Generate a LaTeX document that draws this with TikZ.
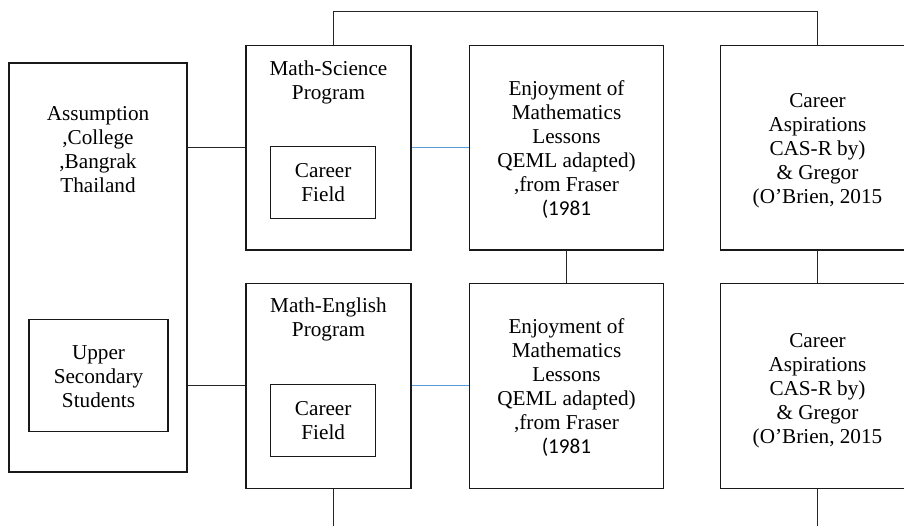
\documentclass[tikz,border=0pt]{standalone}
\usepackage{fontspec}
\setmainfont{Liberation Serif}
\newfontfamily\calibri{Carlito}
\definecolor{linkblue}{HTML}{5B9BD5}
\begin{document}
\begin{tikzpicture}[x=1pt,y=-1pt,
  box/.style={draw=black!90,line width=1.1pt,rectangle,inner sep=0pt},
  txt/.style={align=center,inner sep=0pt,font=\fontsize{21.2}{24}\selectfont},
  conn/.style={draw=black!85,line width=1pt},
  bluecon/.style={draw=linkblue,line width=1pt}]
\useasboundingbox (0,0) rectangle (904,526);
\clip (0,0) rectangle (904,526);
% boxes
\node[box,minimum width=178pt,minimum height=409pt] (L) at (98,267.5) {};
\node[box,minimum width=139pt,minimum height=111.5pt] (US) at (98.5,375.5) {};
\node[box,minimum width=165pt,minimum height=204.5pt] (MS) at (328.5,147.8) {};
\node[box,minimum width=105pt,minimum height=71.6pt] (CF1) at (323.2,182.5) {};
\node[box,minimum width=165pt,minimum height=204.5pt] (ME) at (328.5,385.9) {};
\node[box,minimum width=105pt,minimum height=71.6pt] (CF2) at (323.2,420.7) {};
\node[box,minimum width=194pt,minimum height=204.5pt] (E1) at (566.7,147.8) {};
\node[box,minimum width=194pt,minimum height=204.5pt] (E2) at (566.7,385.9) {};
\node[box,minimum width=194pt,minimum height=204.5pt] (C1) at (817.3,147.8) {};
\node[box,minimum width=194pt,minimum height=204.5pt] (C2) at (817.3,385.9) {};
% connectors
\coordinate (tl) at (333,12);
\coordinate (bl) at (333,530);
\draw[conn] (L.east |- MS.west) -- (MS.west);
\draw[conn] (L.east |- ME.west) -- (ME.west);
\draw[bluecon] (MS.east) -- (E1.west);
\draw[bluecon] (ME.east) -- (E2.west);
\draw[conn] (E1.south) -- (E2.north);
\draw[conn] (C1.south) -- (C2.north);
\draw[conn] (MS.north -| tl) -- (tl) -- (tl -| C1.north) -- (C1.north);
\draw[conn] (ME.south -| bl) -- (bl);
\draw[conn] (C2.south) -- (C2.south |- bl);
% texts
\node[txt] (tL) at (98,150) {Assumption\\,College\\,Bangrak\\Thailand};
\node[txt] (tUS) at (98.5,376.7) {Upper\\Secondary\\Students};
\node[txt] (tMS) at (328.5,82.5) {Math-Science\\Program};
\node[txt] (tCF1) at (323.2,182.5) {Career\\Field};
\node[txt] (tME) at (328.5,319.7) {Math-English\\Program};
\node[txt] (tCF2) at (323.2,421) {Career\\Field};
\node[txt] (tE1) at (566.5,149.5) {Enjoyment of\\Mathematics\\Lessons\\QEML adapted)\\,from Fraser\\{\calibri (1981}};
\node[txt] (tE2) at (566.5,388) {Enjoyment of\\Mathematics\\Lessons\\QEML adapted)\\,from Fraser\\{\calibri (1981}};
\node[txt] (tC1) at (817.5,150.7) {Career\\Aspirations\\CAS-R by)\\\& Gregor\\(O’Brien, 2015};
\node[txt] (tC2) at (817.5,390.8) {Career\\Aspirations\\CAS-R by)\\\& Gregor\\(O’Brien, 2015};
\end{tikzpicture}
\end{document}
